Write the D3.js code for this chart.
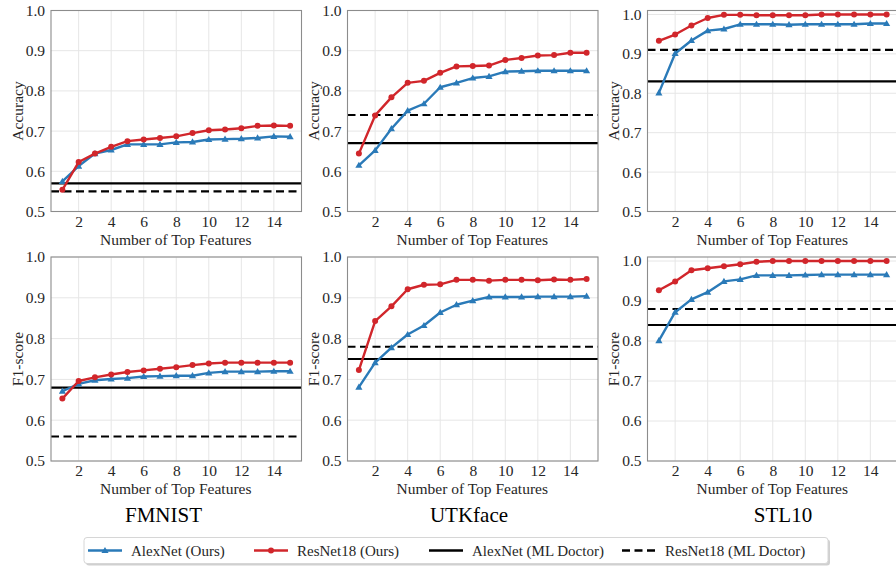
<!DOCTYPE html>
<html>
<head>
<meta charset="utf-8">
<script src="https://cdn.jsdelivr.net/npm/d3@7"></script>
<style>
  body { margin: 0; background: #fff; }
  svg text { font-family: "Liberation Serif", "Times New Roman", serif; }
</style>
</head>
<body>
<div id="chart"></div>
<script>
// ---------------------------------------------------------------- data
const features = [1, 2, 3, 4, 5, 6, 7, 8, 9, 10, 11, 12, 13, 14, 15];
const xTicks = [2, 4, 6, 8, 10, 12, 14];
const yTicks = [0.5, 0.6, 0.7, 0.8, 0.9, 1.0];
const datasets = ["FMNIST", "UTKface", "STL10"];
const legendLabels = ["AlexNet (Ours)", "ResNet18 (Ours)", "AlexNet (ML Doctor)", "ResNet18 (ML Doctor)"];

// accuracy
const fmnistAccAlex = [0.575, 0.613, 0.644, 0.653, 0.667, 0.667, 0.667, 0.672, 0.673, 0.679, 0.680, 0.681, 0.683, 0.687, 0.686];
const fmnistAccRes  = [0.554, 0.623, 0.644, 0.661, 0.675, 0.679, 0.683, 0.687, 0.695, 0.702, 0.704, 0.707, 0.713, 0.714, 0.713];
const utkAccAlex    = [0.615, 0.652, 0.706, 0.751, 0.768, 0.809, 0.820, 0.832, 0.836, 0.848, 0.849, 0.850, 0.850, 0.850, 0.850];
const utkAccRes     = [0.644, 0.739, 0.784, 0.820, 0.825, 0.845, 0.861, 0.862, 0.863, 0.877, 0.882, 0.888, 0.889, 0.895, 0.895];
const stlAccAlex    = [0.801, 0.901, 0.934, 0.959, 0.963, 0.975, 0.975, 0.975, 0.974, 0.975, 0.975, 0.975, 0.975, 0.977, 0.977];
const stlAccRes     = [0.933, 0.949, 0.972, 0.991, 0.999, 0.999, 0.998, 0.998, 0.998, 0.998, 1.000, 1.000, 1.000, 1.000, 1.000];

// F1-score
const fmnistF1Alex  = [0.671, 0.689, 0.698, 0.701, 0.703, 0.707, 0.708, 0.709, 0.709, 0.716, 0.719, 0.719, 0.719, 0.720, 0.720];
const fmnistF1Res   = [0.653, 0.696, 0.705, 0.712, 0.718, 0.722, 0.726, 0.730, 0.735, 0.739, 0.741, 0.741, 0.741, 0.741, 0.741];
const utkF1Alex     = [0.681, 0.741, 0.778, 0.810, 0.832, 0.864, 0.883, 0.893, 0.902, 0.902, 0.902, 0.903, 0.903, 0.903, 0.904];
const utkF1Res      = [0.723, 0.843, 0.879, 0.921, 0.932, 0.933, 0.944, 0.944, 0.942, 0.944, 0.944, 0.943, 0.945, 0.944, 0.946];
const stlF1Alex     = [0.801, 0.872, 0.904, 0.922, 0.949, 0.954, 0.964, 0.964, 0.964, 0.965, 0.966, 0.966, 0.966, 0.966, 0.966];
const stlF1Res      = [0.927, 0.949, 0.977, 0.982, 0.987, 0.992, 0.998, 1.000, 1.000, 1.000, 1.000, 1.000, 1.000, 1.000, 1.000];

// ML Doctor baselines [accuracy, f1] per dataset
const alexDoctor = { FMNIST: [0.57, 0.68], UTKface: [0.67, 0.75], STL10: [0.83, 0.84] };
const resDoctor  = { FMNIST: [0.55, 0.56], UTKface: [0.74, 0.78], STL10: [0.91, 0.88] };

// ---------------------------------------------------------------- layout
const W = 896, H = 566;
const blue = "#2a7ab8", red = "#d1262b";
const colLeft = [51, 347.5, 647.5];
const titleX = [163.5, 469, 783];
const panelW = 250.5;
const rows = [
  { top: 10.5, bottom: 211.5, ylabel: "Accuracy" },
  { top: 257, bottom: 461, ylabel: "F1-score" }
];

const panels = [
  { col: 0, row: 0, ymax: 1.0,  alex: fmnistAccAlex, res: fmnistAccRes, a: alexDoctor.FMNIST[0],  r: resDoctor.FMNIST[0] },
  { col: 1, row: 0, ymax: 1.0,  alex: utkAccAlex,    res: utkAccRes,    a: alexDoctor.UTKface[0], r: resDoctor.UTKface[0] },
  { col: 2, row: 0, ymax: 1.01, alex: stlAccAlex,    res: stlAccRes,    a: alexDoctor.STL10[0],   r: resDoctor.STL10[0] },
  { col: 0, row: 1, ymax: 1.0,  alex: fmnistF1Alex,  res: fmnistF1Res,  a: alexDoctor.FMNIST[1],  r: resDoctor.FMNIST[1] },
  { col: 1, row: 1, ymax: 1.0,  alex: utkF1Alex,     res: utkF1Res,     a: alexDoctor.UTKface[1], r: resDoctor.UTKface[1] },
  { col: 2, row: 1, ymax: 1.01, alex: stlF1Alex,     res: stlF1Res,     a: alexDoctor.STL10[1],   r: resDoctor.STL10[1] }
];

const svg = d3.select("#chart").append("svg")
    .attr("width", W)
    .attr("height", H);

const tri = d3.symbol().type(d3.symbolTriangle).size(22);

panels.forEach(function(p) {
  const row = rows[p.row];
  const left = colLeft[p.col];
  const h = row.bottom - row.top;

  const x = d3.scaleLinear().domain([0.3, 15.7]).range([0, panelW]);
  const y = d3.scaleLinear().domain([0.5, p.ymax]).range([h, 0]);

  const g = svg.append("g").attr("transform", `translate(${left},${row.top})`);

  const clipId = "clip" + p.col + p.row;
  g.append("clipPath").attr("id", clipId)
    .append("rect").attr("width", panelW).attr("height", h);

  // grid
  g.append("g").selectAll("line").data(xTicks).join("line")
      .attr("x1", d => x(d)).attr("x2", d => x(d))
      .attr("y1", 0).attr("y2", h)
      .attr("stroke", "#e6e6e6").attr("stroke-width", 1);
  g.append("g").selectAll("line").data(yTicks).join("line")
      .attr("x1", 0).attr("x2", panelW)
      .attr("y1", d => y(d)).attr("y2", d => y(d))
      .attr("stroke", "#e6e6e6").attr("stroke-width", 1);

  // axes (labels only, no tick marks)
  const xAxis = g.append("g").attr("transform", `translate(0,${h})`)
      .call(d3.axisBottom(x).tickValues(xTicks).tickSize(0).tickPadding(0).tickFormat(d3.format("d")));
  const yAxis = g.append("g")
      .call(d3.axisLeft(y).tickValues(yTicks).tickSize(0).tickPadding(6).tickFormat(d3.format(".1f")));
  [xAxis, yAxis].forEach(function(a) {
    a.select(".domain").remove();
    a.selectAll("text").attr("font-size", 15.5).attr("fill", "#262626")
      .style("font-family", "Liberation Serif");
  });
  xAxis.selectAll("text").attr("y", 15).attr("dy", 0);

  const plot = g.append("g").attr("clip-path", `url(#${clipId})`);

  // ML Doctor baselines
  plot.append("line")
      .attr("x1", 0).attr("x2", panelW)
      .attr("y1", y(p.a)).attr("y2", y(p.a))
      .attr("stroke", "#000").attr("stroke-width", 2.2);
  plot.append("line")
      .attr("x1", 0).attr("x2", panelW)
      .attr("y1", y(p.r)).attr("y2", y(p.r))
      .attr("stroke", "#000").attr("stroke-width", 2.2)
      .attr("stroke-dasharray", "8,4.5");

  const line = d3.line()
      .x((d, i) => x(features[i]))
      .y(d => y(d));

  // AlexNet (ours)
  plot.append("path").datum(p.alex)
      .attr("fill", "none").attr("stroke", blue).attr("stroke-width", 2.4)
      .attr("stroke-linejoin", "round")
      .attr("d", line);
  plot.append("g").selectAll("path").data(p.alex).join("path")
      .attr("transform", (d, i) => `translate(${x(features[i])},${y(d) + 0.5})`)
      .attr("d", tri).attr("fill", blue);

  // ResNet18 (ours)
  plot.append("path").datum(p.res)
      .attr("fill", "none").attr("stroke", red).attr("stroke-width", 2.4)
      .attr("stroke-linejoin", "round")
      .attr("d", line);
  plot.append("g").selectAll("circle").data(p.res).join("circle")
      .attr("cx", (d, i) => x(features[i]))
      .attr("cy", d => y(d))
      .attr("r", 3).attr("fill", red);

  // frame
  g.append("rect")
      .attr("width", panelW).attr("height", h)
      .attr("fill", "none").attr("stroke", "#8c8c8c").attr("stroke-width", 1.1);

  // axis titles
  g.append("text")
      .attr("x", panelW / 2 - 0.5)
      .attr("y", h + 33)
      .attr("text-anchor", "middle")
      .attr("font-size", 15.5).attr("fill", "#262626")
      .text("Number of Top Features");
  g.append("text")
      .attr("transform", `translate(-28.5,${h / 2}) rotate(-90)`)
      .attr("text-anchor", "middle")
      .attr("font-size", 15.5).attr("fill", "#262626")
      .text(row.ylabel);

  // dataset title under the bottom row
  if (p.row === 1) {
    g.append("text")
        .attr("x", titleX[p.col] - left)
        .attr("y", h + 61)
        .attr("text-anchor", "middle")
        .attr("font-size", 21).attr("fill", "#000")
        .text(datasets[p.col]);
  }
});

// ---------------------------------------------------------------- legend
const lg = svg.append("g").attr("transform", "translate(84,537.5)");
lg.append("rect")
    .attr("x", 2).attr("y", 2).attr("width", 744).attr("height", 26).attr("rx", 3)
    .attr("fill", "#b0b0b0").attr("opacity", 0.6);
lg.append("rect")
    .attr("width", 744).attr("height", 26).attr("rx", 3)
    .attr("fill", "#fff").attr("stroke", "#d6d6d6").attr("stroke-width", 1);

const legendX = [4, 170, 345, 538];
legendLabels.forEach(function(label, i) {
  const item = lg.append("g").attr("transform", `translate(${legendX[i]},13)`);
  const stroke = i === 0 ? blue : i === 1 ? red : "#000";
  item.append("line")
      .attr("x1", 0).attr("x2", 34)
      .attr("stroke", stroke).attr("stroke-width", i < 2 ? 2.4 : 2.6)
      .attr("stroke-dasharray", i === 3 ? "8,4.5" : null);
  if (i === 0) item.append("path").attr("d", tri).attr("transform", "translate(17,0.5)").attr("fill", blue);
  if (i === 1) item.append("circle").attr("cx", 17).attr("r", 3).attr("fill", red);
  item.append("text")
      .attr("x", 43).attr("y", 5)
      .attr("font-size", 15).attr("fill", "#262626")
      .text(label);
});
</script>
</body>
</html>
